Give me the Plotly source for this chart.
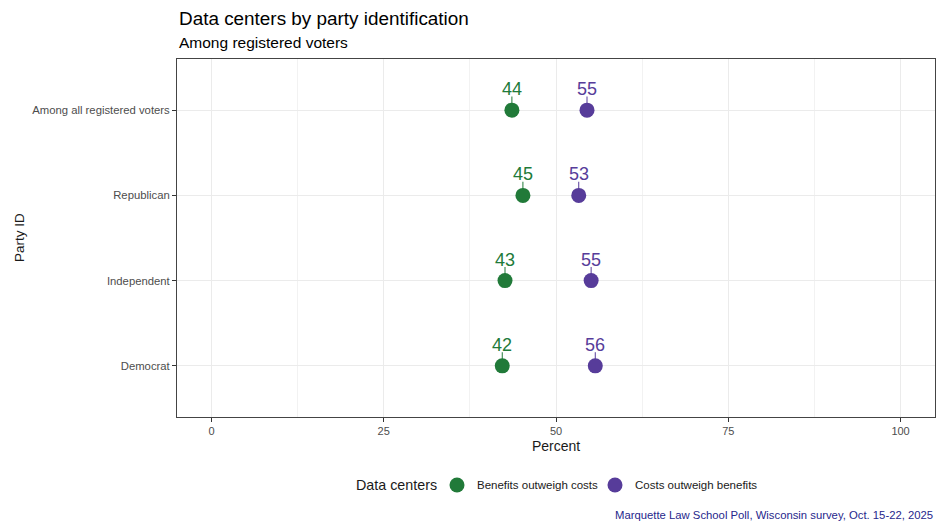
import plotly.graph_objects as go

# ---- data ----
categories = ["Democrat", "Independent", "Republican", "Among all registered voters"]
benefits = [42.2, 42.6, 45.2, 43.6]
costs = [55.7, 55.1, 53.3, 54.5]
benefits_labels = ["42", "43", "45", "44"]
costs_labels = ["56", "55", "53", "55"]
series_names = ["Benefits outweigh costs", "Costs outweigh benefits"]
x_ticks = [0, 25, 50, 75, 100]

GREEN = "#217a39"
PURPLE = "#573c9a"
FONT = "Liberation Sans, Arial, sans-serif"

# plot-area pixel geometry (page has an 8px body margin)
PL, PR, PT, PB = 177, 935, 59, 417
def px_x(p):
    return (p - PL) / (PR - PL)
def px_y(p):
    return (PB - p) / (PB - PT)

ypos = list(range(len(categories)))

fig = go.Figure()
for vals, labels, name, col in [
    (benefits, benefits_labels, series_names[0], GREEN),
    (costs, costs_labels, series_names[1], PURPLE),
]:
    fig.add_trace(go.Scatter(
        x=vals, y=ypos, mode="markers", name=name,
        marker=dict(size=15, color=col),
        error_y=dict(type="data", symmetric=False, array=[0.16] * len(vals),
                     arrayminus=[0] * len(vals), width=0, thickness=1, color=col),
        hoverinfo="x+y", showlegend=False,
    ))
    for xv, yv, lab in zip(vals, ypos, labels):
        fig.add_annotation(x=xv, y=yv, xref="x", yref="y", text=lab, showarrow=False,
                           yshift=21, font=dict(size=18, color=col, family=FONT))

fig.update_layout(
    width=938, height=522,
    margin=dict(l=169, r=11, t=51, b=113),
    paper_bgcolor="white", plot_bgcolor="white",
    font=dict(family=FONT, color="#1a1a1a"),
    showlegend=False,
)
fig.update_xaxes(
    range=[-5, 105], tickvals=x_ticks, ticktext=[str(v) for v in x_ticks],
    showgrid=True, gridcolor="#ebebeb", gridwidth=1,
    minor=dict(showgrid=True, gridcolor="#f2f2f2", gridwidth=1, dtick=12.5, tick0=0),
    ticks="outside", ticklen=4, tickcolor="#333333",
    tickfont=dict(size=11, color="#4d4d4d"),
    showline=True, linecolor="#444444", linewidth=1, mirror=True, zeroline=False,
    title=dict(text="Percent", font=dict(size=14, color="#1a1a1a"), standoff=4),
)
fig.update_yaxes(
    range=[-0.6, 3.6], tickvals=ypos, ticktext=categories,
    showgrid=True, gridcolor="#ebebeb", gridwidth=1,
    ticks="outside", ticklen=4, tickcolor="#333333",
    tickfont=dict(size=11.3, color="#4d4d4d"),
    showline=True, linecolor="#444444", linewidth=1, mirror=True, zeroline=False,
)
fig.add_annotation(xref="paper", yref="paper", x=px_x(19), xanchor="center", y=0.5,
                   yanchor="middle", text="Party ID",
                   textangle=-90, showarrow=False, font=dict(size=13.5, color="#1a1a1a"))
fig.add_annotation(xref="paper", yref="paper", x=0, xanchor="left", y=px_y(19), yanchor="middle",
                   text="Data centers by party identification", showarrow=False,
                   font=dict(size=18.9, color="#000000"))
fig.add_annotation(xref="paper", yref="paper", x=0, xanchor="left", y=px_y(42), yanchor="middle",
                   text="Among registered voters", showarrow=False,
                   font=dict(size=15.5, color="#000000"))
fig.add_annotation(xref="paper", yref="paper", x=1, xanchor="right", y=px_y(515), yanchor="middle",
                   text="Marquette Law School Poll, Wisconsin survey, Oct. 15-22, 2025",
                   showarrow=False, font=dict(size=11.3, color="#27278c"))

# ---- legend (drawn manually, ggplot style) ----
LEG_Y = px_y(485)
fig.add_annotation(xref="paper", yref="paper", x=px_x(439), xanchor="right", y=LEG_Y,
                   yanchor="middle", text="Data centers", showarrow=False,
                   font=dict(size=14.3, color="#1a1a1a"))
for name, col, cx, tx in [(series_names[0], GREEN, 457, 475), (series_names[1], PURPLE, 615, 633)]:
    fig.add_shape(type="circle", xref="paper", yref="paper", xsizemode="pixel", ysizemode="pixel",
                  xanchor=px_x(cx), yanchor=LEG_Y, x0=-7.5, x1=7.5, y0=-7.5, y1=7.5,
                  fillcolor=col, line=dict(width=0))
    fig.add_annotation(xref="paper", yref="paper", x=px_x(tx), xanchor="left", y=LEG_Y,
                       yanchor="middle", text=name, showarrow=False,
                       font=dict(size=11.5, color="#1a1a1a"))

fig.write_html("out.html")
